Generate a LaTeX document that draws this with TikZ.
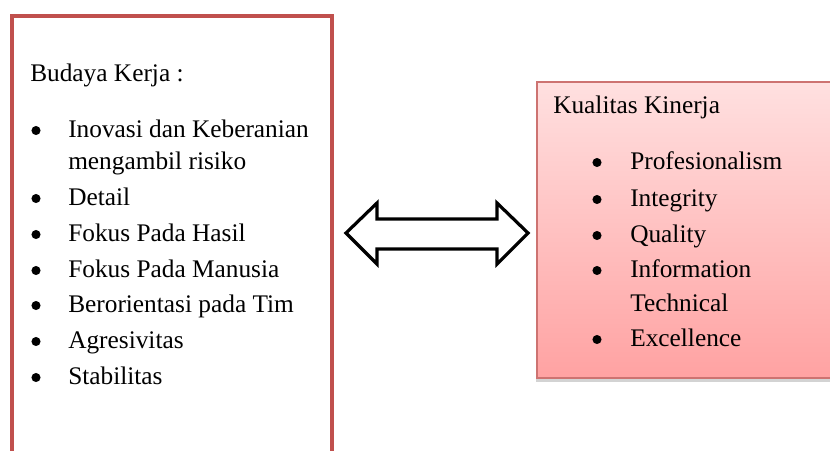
\documentclass[tikz,border=0pt]{standalone}
\usepackage{fontspec}
\setmainfont{Liberation Serif}
\usetikzlibrary{shadows}
\definecolor{boxred}{HTML}{C0504D}
\definecolor{pinktop}{HTML}{FFE0E0}
\definecolor{pinkbot}{HTML}{FFA2A2}
\tikzset{
  txt/.style={anchor=base west, inner sep=0pt, font=\fontsize{19}{23}\selectfont},
  bul/.style={circle, fill=black, inner sep=0pt, minimum size=6.8pt},
}
\begin{document}
\begin{tikzpicture}[x=0.75pt,y=-0.75pt]
\useasboundingbox (0,0) rectangle (830,450);
\clip (0,0) rectangle (830,450);
% left box
\draw[boxred, line width=2.4pt] (12,16) rectangle (332,470);
\node[txt] (lt) at (30,81) {Budaya Kerja :};
\foreach \n/\y/\t in {a/137/{Inovasi dan Keberanian}, b/205/Detail, c/241/{Fokus Pada Hasil}, d/277/{Fokus Pada Manusia}, e/312/{Berorientasi pada Tim}, f/348/Agresivitas, g/384/Stabilitas}{
  \node[bul] (lb\n) at (36,\y-6.5) {};
  \node[txt] (li\n) at (68,\y) {\t};
}
\node[txt] (lia2) at (68,169) {mengambil risiko};
% right box
\draw[boxred!80, line width=0.8pt, top color=pinktop, bottom color=pinkbot,
  drop shadow={shadow xshift=-1pt, shadow yshift=-3pt, opacity=0.35}]
  (537,82) rectangle (845,378);
\node[txt] (rt) at (553,113) {Kualitas Kinerja};
\foreach \n/\y/\t in {a/169/Profesionalism, b/206/Integrity, c/242/Quality, d/277/Information, e/346/Excellence}{
  \node[bul] (rb\n) at (597,\y-6.5) {};
  \node[txt] (ri\n) at (630,\y) {\t};
}
\node[txt] (rid2) at (630,311) {Technical};
% double arrow
\draw[line width=2.4pt, line join=miter, fill=white]
  (346,233) -- (377,203) -- (377,219) -- (497,219) -- (497,203) -- (528,233)
  -- (497,264) -- (497,249) -- (377,249) -- (377,264) -- cycle;
\end{tikzpicture}
\end{document}
